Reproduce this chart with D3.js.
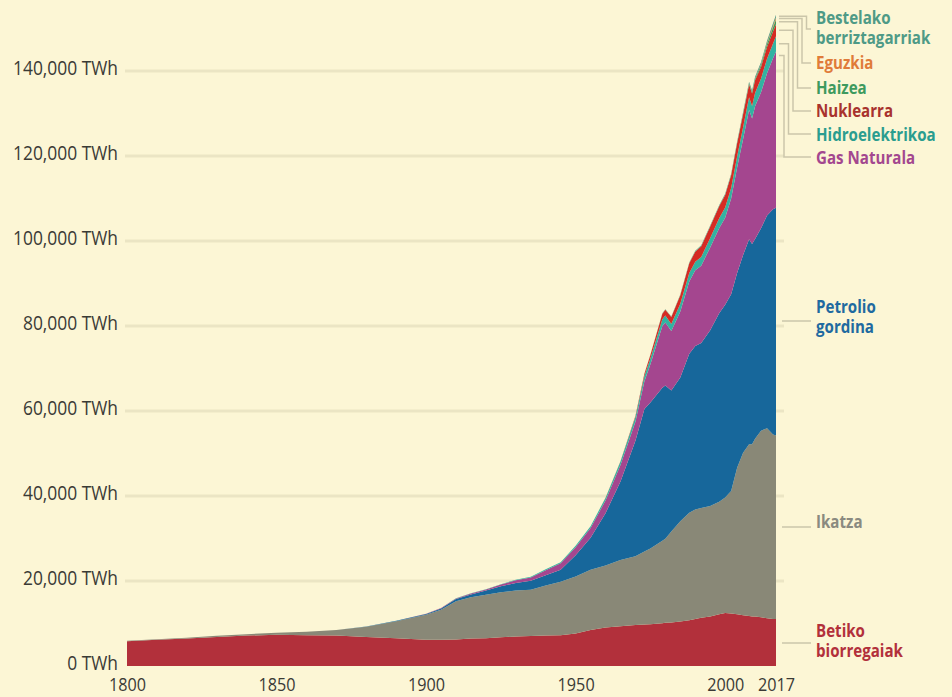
<!DOCTYPE html>
<html>
<head>
<meta charset="utf-8">
<script src="https://cdn.jsdelivr.net/npm/d3@7"></script>
<style>
  body { margin: 0; background: #fcf6d5; }
  svg { display: block; font-family: "Open Sans", "Noto Sans", sans-serif; }
</style>
</head>
<body>
<svg id="chart"></svg>
<script>
// world primary energy consumption by source, TWh
var years = [1800,1810,1820,1830,1840,1850,1860,1870,1880,1890,1900,1905,1910,1915,1920,1925,1930,1935,1940,1945,
             1950,1955,1960,1965,1970,1973,1975,1979,1980,1982,1985,1988,1990,1992,1995,1998,2000,2002,2004,2006,
             2008,2009,2010,2012,2014,2016,2017];

var biomass = [5850,6150,6450,6850,7150,7350,7250,7150,6850,6550,6150,6150,6250,6450,6550,6750,6950,7050,7150,7250,
               7650,8450,9050,9350,9650,9750,9850,10050,10150,10250,10450,10750,11050,11350,11650,12150,12450,12350,12150,11950,
               11750,11650,11650,11450,11250,11050,11050];
var coal = [100,150,200,250,350,500,800,1300,2400,4000,5900,7100,9000,9700,10200,10600,10800,10900,11800,12600,
            13400,14200,14600,15600,16200,17200,17800,19400,19800,21400,23600,25300,25800,25800,26000,26500,27200,28800,34500,38200,
            40400,40500,41800,43900,44700,43400,43200];
var oil = [0,0,0,0,0,0,0,10,30,80,200,300,500,700,1000,1400,1800,2100,2400,2800,
           5000,7500,12300,18450,27150,33550,34350,36050,36050,33150,33850,37450,38450,38850,41350,44350,45350,46350,45850,46550,
           48250,47150,47050,47650,50050,53050,53550];
var gas = [0,0,0,0,0,0,0,0,0,30,60,80,150,200,250,400,600,800,1200,1500,
           1900,2300,3000,3900,4500,6500,9000,14500,14800,14000,15500,17000,17800,18200,19500,20000,20500,22500,24800,27300,
           30500,29500,31200,32000,33500,35500,36800];
var hydro = [0,0,0,0,0,0,0,0,0,0,10,20,40,55,70,100,130,160,200,250,
             330,450,600,800,1100,1250,1350,1600,1650,1700,1850,1950,2000,2050,2200,2350,2400,2450,2600,2750,
             2900,2950,3100,3250,3400,3500,3600];
var nuclear = [0,0,0,0,0,0,0,0,0,0,0,0,0,0,0,0,0,0,0,0,
               0,0,10,70,230,500,800,1300,1400,1600,2000,2300,2400,2500,2700,2800,2900,3000,3100,3100,
               3000,2950,3000,2700,2750,2800,2800];
var wind = [0,0,0,0,0,0,0,0,0,0,0,0,0,0,0,0,0,0,0,0,
            0,0,0,0,0,0,0,0,0,0,0,0,4,6,8,20,31,52,85,133,
            220,276,346,520,712,960,1130];
var solar = [0,0,0,0,0,0,0,0,0,0,0,0,0,0,0,0,0,0,0,0,
             0,0,0,0,0,0,0,0,0,0,0,0,0,0,0,0,1,2,3,6,
             12,20,33,100,190,330,440];
var otherRenew = [0,0,0,0,0,0,0,0,0,0,0,0,0,0,0,0,0,0,0,0,
                  0,0,0,20,40,55,65,85,90,110,150,180,200,220,250,270,290,310,330,370,
                  420,450,480,530,580,620,650];

var keys = ["biomass","coal","oil","gas","hydro","nuclear","wind","solar","other"];
var labels = {
    biomass: ["Betiko", "biorregaiak"],
    coal: ["Ikatza"],
    oil: ["Petrolio", "gordina"],
    gas: ["Gas Naturala"],
    hydro: ["Hidroelektrikoa"],
    nuclear: ["Nuklearra"],
    wind: ["Haizea"],
    solar: ["Eguzkia"],
    other: ["Bestelako", "berriztagarriak"]
};
var xTicks = [1800,1850,1900,1950,2000,2017];
var yTicks = [0,20000,40000,60000,80000,100000,120000,140000];

// styles
var colors = {
    biomass: "#b2303b", coal: "#898877", oil: "#17679b", gas: "#a4468f",
    hydro: "#33b2a2", nuclear: "#d52b24", wind: "#3f9a5d", solar: "#e8893a", other: "#5a9c8a"
};
var textColors = {
    biomass: "#b2303b", coal: "#8a8a80", oil: "#1f6aa0", gas: "#a3478f",
    hydro: "#2a9d8f", nuclear: "#a8322d", wind: "#3e9a5e", solar: "#e07b39", other: "#4e9a86"
};

function chart() {
    var width = 952,
        height = 697;

    var x = d3.scaleLinear().domain([1800, 2017]).range([127, 776]);
    var y = d3.scaleLinear().domain([0, 140000]).range([666, 71]);

    var svg = d3.select("#chart")
        .attr("width", width)
        .attr("height", height);

    svg.append("rect").attr("width", width).attr("height", height).attr("fill", "#fcf6d5");

    var rows = years.map(function(yr, i) {
        return {year: yr, biomass: biomass[i], coal: coal[i], oil: oil[i], gas: gas[i],
                hydro: hydro[i], nuclear: nuclear[i], wind: wind[i], solar: solar[i], other: otherRenew[i]};
    });

    var series = d3.stack().keys(keys)(rows);

    // grid
    svg.append("g").selectAll("line")
        .data(yTicks.slice(1))
        .enter().append("line")
        .attr("x1", 125).attr("x2", 784)
        .attr("y1", function(d) { return y(d); })
        .attr("y2", function(d) { return y(d); })
        .attr("stroke", "#ebe5c4")
        .attr("stroke-width", 3);

    var area = d3.area()
        .x(function(d) { return x(d.data.year); })
        .y0(function(d) { return y(d[0]); })
        .y1(function(d) { return y(d[1]); });

    svg.append("g").selectAll("path")
        .data(series)
        .enter().append("path")
        .attr("d", area)
        .attr("fill", function(d) { return colors[d.key]; });

    // y axis
    var yAxis = svg.append("g")
        .attr("transform", "translate(118,-3)")
        .call(d3.axisLeft(y).tickValues(yTicks).tickSize(0).tickPadding(0)
              .tickFormat(function(d) { return d3.format(",")(d) + " TWh"; }));
    yAxis.select(".domain").remove();
    yAxis.selectAll("text")
        .attr("fill", "#3a3a35")
        .attr("transform", "scale(0.87,1)")
        .style("font-size", "20px")
        .style("font-family", "\"Open Sans\", sans-serif");

    // x axis
    var xAxis = svg.append("g")
        .attr("transform", "translate(0,678)")
        .call(d3.axisBottom(x).tickValues(xTicks).tickSize(0).tickPadding(0)
              .tickFormat(d3.format("d")));
    xAxis.select(".domain").remove();
    xAxis.selectAll("text")
        .attr("fill", "#3a3a35")
        .attr("transform", "scale(0.9,1)")
        .style("font-size", "18px")
        .style("font-family", "\"Open Sans\", sans-serif");

    // series labels on the right
    var baseline = {other: 24, solar: 69, wind: 94, nuclear: 117, hydro: 141, gas: 164,
                    oil: 313, coal: 528, biomass: 637};
    var last = series.map(function(s) { return s[s.length - 1]; });
    var xEnd = x(2017);

    var lbl = svg.append("g")
        .style("font-weight", "bold")
        .style("font-size", "18px");

    series.forEach(function(s) {
        var k = s.key;
        var t = lbl.append("text")
            .attr("transform", "translate(816," + baseline[k] + ") scale(0.84,1)")
            .attr("fill", textColors[k]);
        labels[k].forEach(function(line, j) {
            t.append("tspan").attr("x", 0).attr("dy", j === 0 ? 0 : 20.5).text(line);
        });
    });

    // leader lines
    var leaders = svg.append("g")
        .attr("fill", "none")
        .attr("stroke", "#cbc6aa")
        .attr("stroke-width", 1.5);

    var straight = {oil: 321, coal: 527, biomass: 643};
    ["oil", "coal", "biomass"].forEach(function(k) {
        leaders.append("line")
            .attr("x1", xEnd + 6).attr("x2", 811)
            .attr("y1", straight[k]).attr("y2", straight[k]);
    });

    var thin = ["gas", "hydro", "nuclear", "wind", "solar", "other"];
    var target = {gas: 157, hydro: 134, nuclear: 111, wind: 88, solar: 63, other: 29};
    thin.forEach(function(k, i) {
        var d = last[keys.indexOf(k)];
        var ys = k === "gas" ? y(d[1]) + 4 : y((d[0] + d[1]) / 2);
        var xk = 784 + i * 4.5;
        leaders.append("path")
            .attr("d", "M" + (xEnd + 3) + "," + ys + "H" + xk + "V" + target[k] + "H811");
    });
}

chart();
</script>
</body>
</html>
